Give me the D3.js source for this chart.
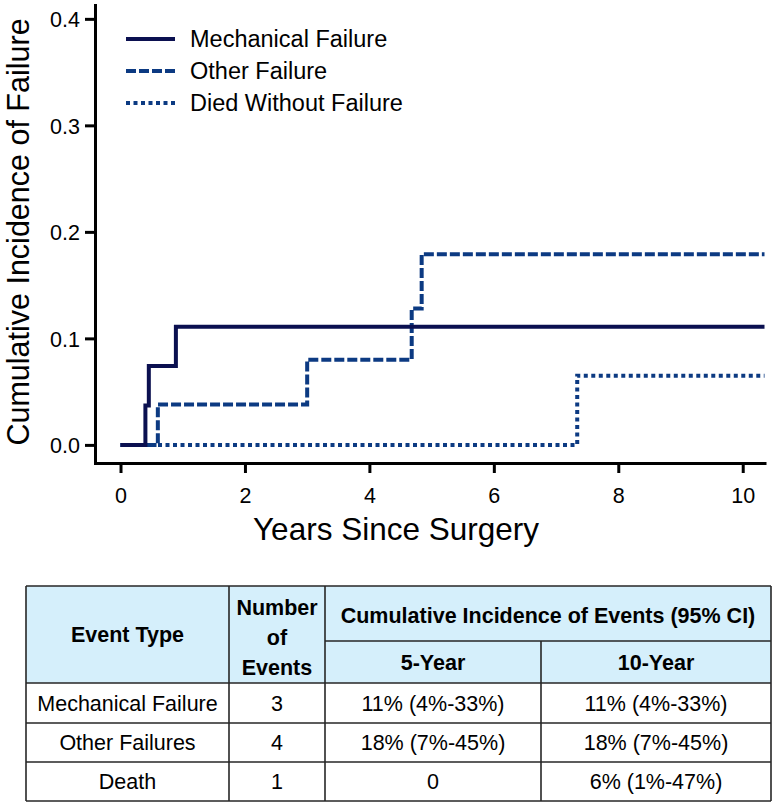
<!DOCTYPE html>
<html>
<head>
<meta charset="utf-8">
<script src="https://cdn.jsdelivr.net/npm/d3@7/dist/d3.min.js"></script>
<style>
  html, body { margin: 0; padding: 0; background: #fff; }
  svg { display: block; font-family: "Liberation Sans", Arial, Helvetica, sans-serif; }
</style>
</head>
<body>
<svg id="chart" width="774" height="804"></svg>
<script>
// ---------- Data ----------
const seriesNames = ["Mechanical Failure", "Other Failure", "Died Without Failure"];
const mechTimes  = [0, 0.40, 0.455, 0.89, 10.35];
const mechValues = [0, 0.037, 0.074, 0.111, 0.111];
const otherTimes  = [0, 0.60, 3.0, 4.68, 4.84, 10.35];
const otherValues = [0, 0.038, 0.080, 0.128, 0.179, 0.179];
const deathTimes  = [0, 7.34, 10.35];
const deathValues = [0, 0.065, 0.065];
const xTicks = [0, 2, 4, 6, 8, 10];
const yTicks = [0, 0.1, 0.2, 0.3, 0.4];
const xTitle = "Years Since Surgery";
const yTitle = "Cumulative Incidence of Failure";

const tableHeaders = ["Event Type", "Number|of|Events", "Cumulative Incidence of Events (95% CI)", "5-Year", "10-Year"];
const tableEvents  = ["Mechanical Failure", "Other Failures", "Death"];
const tableCounts  = ["3", "4", "1"];
const table5yr     = ["11% (4%-33%)", "18% (7%-45%)", "0"];
const table10yr    = ["11% (4%-33%)", "18% (7%-45%)", "6% (1%-47%)"];

// ---------- Chart ----------
const svg = d3.select("#chart");
const x = d3.scaleLinear().domain([-0.41, 10.35]).range([95, 764.5]);
const y = d3.scaleLinear().domain([-0.017, 0.413]).range([463, 5]);

const styles = [
  { color: "#0b1050", width: 4, dash: null },
  { color: "#0c3a82", width: 4, dash: "10,3" },
  { color: "#0c3a82", width: 4, dash: "4,3.5" }
];

const series = [
  { t: mechTimes, v: mechValues, s: styles[0] },
  { t: otherTimes, v: otherValues, s: styles[1] },
  { t: deathTimes, v: deathValues, s: styles[2] }
];

const line = d3.line()
  .x(d => x(d[0]))
  .y(d => y(d[1]))
  .curve(d3.curveStepAfter);

// draw order: dashed, dotted, solid
[1, 2, 0].forEach(i => {
  const sr = series[i];
  const pts = sr.t.map((t, k) => [t, sr.v[k]]);
  svg.append("path")
    .attr("d", line(pts))
    .attr("fill", "none")
    .attr("stroke", sr.s.color)
    .attr("stroke-width", sr.s.width)
    .attr("stroke-dasharray", sr.s.dash)
    .attr("stroke-linejoin", "miter");
});

// Axes
const xAxis = d3.axisBottom(x).tickValues(xTicks).tickFormat(d3.format("d"))
  .tickSize(10).tickSizeOuter(0);
const gx = svg.append("g").attr("transform", "translate(0,463)").call(xAxis);
gx.select(".domain").attr("stroke", "#000").attr("stroke-width", 3).attr("stroke-linecap", "square");
gx.selectAll(".tick line").attr("stroke", "#000").attr("stroke-width", 3);
gx.selectAll(".tick text").attr("y", 40).attr("dy", 0)
  .attr("font-size", 21.5).attr("fill", "#000").attr("font-family", "Liberation Sans, Arial, sans-serif");

const yAxis = d3.axisLeft(y).tickValues(yTicks).tickFormat(d3.format(".1f"))
  .tickSize(10).tickPadding(5).tickSizeOuter(0);
const gy = svg.append("g").attr("transform", "translate(95,0)").call(yAxis);
gy.select(".domain").attr("stroke", "#000").attr("stroke-width", 3).attr("stroke-linecap", "square");
gy.selectAll(".tick line").attr("stroke", "#000").attr("stroke-width", 3);
gy.selectAll(".tick text").attr("dy", "0.36em")
  .attr("font-size", 21.5).attr("fill", "#000").attr("font-family", "Liberation Sans, Arial, sans-serif");

// Axis titles
svg.append("text")
  .attr("x", 396).attr("y", 540)
  .attr("text-anchor", "middle")
  .attr("font-size", 31.5)
  .attr("fill", "#000")
  .text(xTitle);

svg.append("text")
  .attr("transform", "translate(29,232) rotate(-90)")
  .attr("text-anchor", "middle")
  .attr("font-size", 30.5)
  .attr("fill", "#000")
  .text(yTitle);

// Legend
const legendY = [39, 71, 103];
seriesNames.forEach((name, i) => {
  const s = styles[i];
  svg.append("line")
    .attr("x1", 126).attr("x2", 175)
    .attr("y1", legendY[i]).attr("y2", legendY[i])
    .attr("stroke", s.color).attr("stroke-width", s.width)
    .attr("stroke-dasharray", s.dash);
  svg.append("text")
    .attr("x", 190).attr("y", legendY[i])
    .attr("dy", "0.36em")
    .attr("font-size", 23.5)
    .attr("fill", "#000")
    .text(name);
});

// ---------- Table ----------
const colX = [26, 229, 325, 541, 771];
const rowY = [586, 641, 683, 723, 762, 801];
const tg = svg.append("g");
const fontT = 21.5;

// header background
tg.append("rect").attr("x", colX[0]).attr("y", rowY[0])
  .attr("width", colX[4] - colX[0]).attr("height", rowY[2] - rowY[0])
  .attr("fill", "#d5effb");

// body background
tg.append("rect").attr("x", colX[0]).attr("y", rowY[2])
  .attr("width", colX[4] - colX[0]).attr("height", rowY[5] - rowY[2])
  .attr("fill", "#fff");

const border = "#262626";
const bw = 1.6;
function hline(x1, x2, yy) {
  tg.append("line").attr("x1", x1).attr("x2", x2).attr("y1", yy).attr("y2", yy)
    .attr("stroke", border).attr("stroke-width", bw);
}
function vline(xx, y1, y2) {
  tg.append("line").attr("x1", xx).attr("x2", xx).attr("y1", y1).attr("y2", y2)
    .attr("stroke", border).attr("stroke-width", bw);
}
hline(colX[0], colX[4], rowY[0]);
hline(colX[2], colX[4], rowY[1]);
[2, 3, 4, 5].forEach(r => hline(colX[0], colX[4], rowY[r]));
vline(colX[0], rowY[0], rowY[5]);
vline(colX[1], rowY[0], rowY[5]);
vline(colX[2], rowY[0], rowY[5]);
vline(colX[3], rowY[1], rowY[5]);
vline(colX[4], rowY[0], rowY[5]);

function cellText(txt, cx, cy, bold) {
  tg.append("text").attr("x", cx).attr("y", cy).attr("dy", "0.36em")
    .attr("text-anchor", "middle")
    .attr("font-size", fontT)
    .attr("font-weight", bold ? "bold" : "normal")
    .attr("fill", "#000")
    .text(txt);
}
const mid = (a, b) => (a + b) / 2;
// header
cellText(tableHeaders[0], mid(colX[0], colX[1]), mid(rowY[0], rowY[2]), true);
tableHeaders[1].split("|").forEach((ln, k) => {
  cellText(ln, mid(colX[1], colX[2]), 607 + k * 30, true);
});
cellText(tableHeaders[2], mid(colX[2], colX[4]), mid(rowY[0], rowY[1]) + 2, true);
cellText(tableHeaders[3], mid(colX[2], colX[3]), mid(rowY[1], rowY[2]), true);
cellText(tableHeaders[4], mid(colX[3], colX[4]), mid(rowY[1], rowY[2]), true);
// body
tableEvents.forEach((ev, r) => {
  const cy = mid(rowY[r + 2], rowY[r + 3]);
  cellText(ev, mid(colX[0], colX[1]), cy, false);
  cellText(tableCounts[r], mid(colX[1], colX[2]), cy, false);
  cellText(table5yr[r], mid(colX[2], colX[3]), cy, false);
  cellText(table10yr[r], mid(colX[3], colX[4]), cy, false);
});
</script>
</body>
</html>
